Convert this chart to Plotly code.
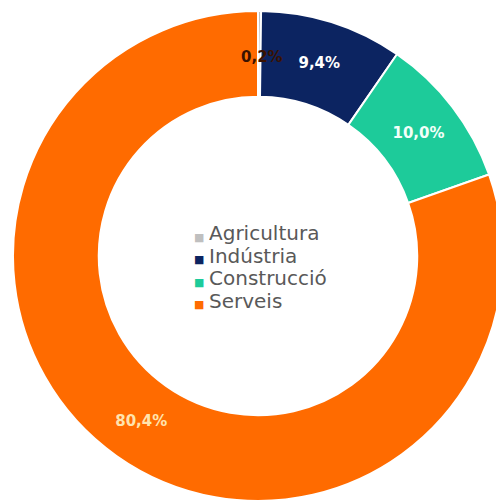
import math
import plotly.graph_objects as go

# Sector shares of employment (%)
labels = ["Agricultura", "Indústria", "Construcció", "Serveis"]
values = [0.2, 9.4, 10.0, 80.4]
colors = ["#BFBFBF", "#0C2461", "#1DCB9A", "#FF6B00"]
label_colors = ["#3A1200", "#FFFFFF", "#F2FFF9", "#FFE3AE"]

W, H = 516, 503
cx, cy, r = 258, 256, 245  # donut centre and outer radius in pixels
hole = 0.65

fmt = [f"{v:.1f}%".replace(".", ",") for v in values]
# The tiniest slice is labelled separately so its text keeps full size
slice_text = [""] + fmt[1:]

fig = go.Figure(
    go.Pie(
        labels=labels,
        values=values,
        text=slice_text,
        textinfo="text",
        textposition="inside",
        insidetextorientation="horizontal",
        textfont=dict(family="DejaVu Sans", size=15, color=label_colors, weight="bold"),
        marker=dict(colors=colors, line=dict(color="white", width=2)),
        hole=hole,
        sort=False,
        direction="clockwise",
        rotation=0,
        domain=dict(x=[(cx - r) / W, (cx + r) / W], y=[(H - cy - r) / H, (H - cy + r) / H]),
        hoverinfo="label+percent",
        showlegend=False,
    )
)

annotations = []

# Label for the first (very thin) slice at the middle of its arc
total = sum(values)
theta = math.radians(values[0] / 2 / total * 360)
rm = r * (1 + hole) / 2
annotations.append(dict(
    x=(cx + rm * math.sin(theta) + 3) / W, y=1 - (cy - rm * math.cos(theta) + 3) / H,
    xref="paper", yref="paper", text=fmt[0], showarrow=False,
    xanchor="center", yanchor="middle",
    font=dict(family="DejaVu Sans", size=15, color=label_colors[0], weight="bold"),
))

# Legend in the centre of the ring
leg_x, leg_y0, leg_dy = 207, 233, 22.5
for i, (lab, col) in enumerate(zip(labels, colors)):
    py = leg_y0 + i * leg_dy
    annotations.append(dict(
        x=(leg_x - 8) / W, y=1 - (py + 4) / H, xref="paper", yref="paper",
        text="■", showarrow=False, xanchor="center", yanchor="middle",
        font=dict(family="DejaVu Sans", size=11, color=col),
    ))
    annotations.append(dict(
        x=leg_x / W, y=1 - py / H, xref="paper", yref="paper",
        text=lab, showarrow=False, xanchor="left", yanchor="middle",
        font=dict(family="DejaVu Sans", size=20, color="#595959"),
    ))

fig.update_layout(
    width=W,
    height=H,
    margin=dict(l=0, r=0, t=0, b=0),
    paper_bgcolor="white",
    plot_bgcolor="white",
    uniformtext=dict(minsize=15, mode="show"),
    annotations=annotations,
)

fig.write_html(
    "out.html",
    post_script="document.documentElement.style.overflow='hidden';document.body.style.overflow='hidden';",
)
